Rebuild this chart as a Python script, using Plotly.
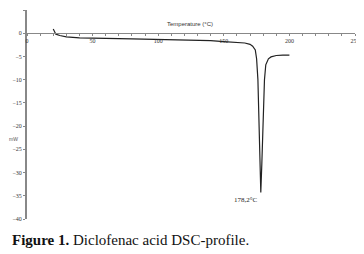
import plotly.graph_objects as go

temperature = [20, 20.5, 22, 25, 30, 40, 50, 60, 80, 100, 120, 140, 150, 160, 166, 170, 172, 174, 175, 176, 177, 178.2,
               179, 180, 181, 182, 184, 186, 190, 195, 200]
heat_flow = [0.9, 0.6, -0.2, -0.5, -0.8, -1.0, -1.0, -1.1, -1.2, -1.3, -1.4, -1.6, -1.8, -1.9, -2.1, -2.4, -2.8, -3.6, -5.5, -10, -22, -34.3,
             -28, -18, -10, -6.8, -5.5, -5.1, -4.8, -4.7, -4.7]
x_ticks = [0, 50, 100, 150, 200, 250]
y_ticks = [5, 0, -5, -10, -15, -20, -25, -30, -35, -40]
peak_label = "178,2°C"

fig = go.Figure()
fig.add_trace(go.Scatter(x=temperature, y=heat_flow, mode="lines",
                         line=dict(color="#222222", width=1.2), showlegend=False))

tick_font = dict(family="Liberation Serif", size=6, color="#333333")
fig.update_layout(
    width=356, height=246,
    margin=dict(l=19, r=9, t=2, b=35),
    paper_bgcolor="white", plot_bgcolor="white",
    xaxis=dict(range=[0, 250], tickvals=x_ticks, ticks="outside", ticklen=2, tickcolor="#888888",
               showline=True, linecolor="#888888", linewidth=1, showgrid=False, zeroline=False,
               anchor="free", position=40/45, tickfont=tick_font, automargin=False,
               minor=dict(dtick=10, ticks="outside", ticklen=2, tickcolor="#888888")),
    yaxis=dict(range=[-40, 5], tickvals=y_ticks, ticks="outside", ticklen=2, tickcolor="#888888",
               showline=True, linecolor="#888888", linewidth=2, showgrid=False, zeroline=False,
               tickfont=tick_font, automargin=False),
    annotations=[
        dict(x=124, y=1.9, xref="x", yref="y", text="Temperature (°C)", showarrow=False,
             font=dict(family="Liberation Sans", size=6, color="#333333")),
        dict(x=-0.06, y=(-22.7 + 40) / 45, xref="paper", yref="paper", text="mW", showarrow=False,
             font=dict(family="Liberation Sans", size=5, color="#555555")),
        dict(x=178.2, y=-34.3, xref="x", yref="y", text=peak_label, showarrow=False,
             xanchor="right", yanchor="top", xshift=-1, yshift=-1,
             font=dict(family="Liberation Serif", size=7, color="#222222")),
        dict(x=-0.052, y=-0.1, xref="paper", yref="paper", xanchor="left", yanchor="middle",
             text="<b>Figure 1.</b> Diclofenac acid DSC-profile.", showarrow=False,
             font=dict(family="Liberation Serif", size=15, color="#111111")),
    ],
)

fig.write_html("out.html")
